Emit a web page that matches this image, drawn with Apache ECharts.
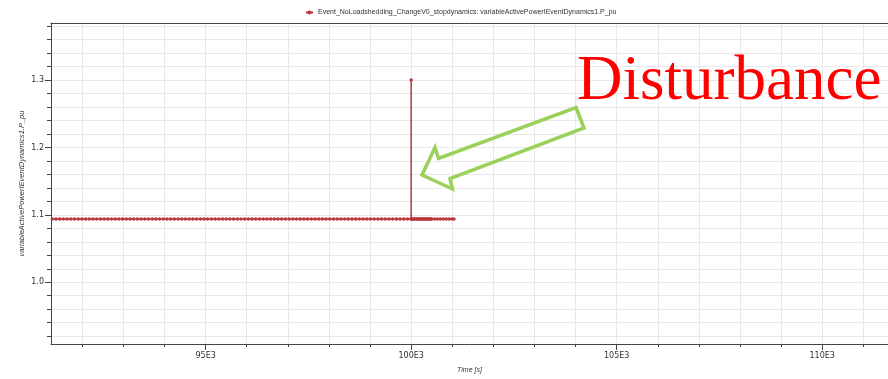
<!DOCTYPE html>
<html>
<head>
<meta charset="utf-8">
<script src="https://cdn.jsdelivr.net/npm/echarts@6/dist/echarts.min.js"></script>
<style>
  html, body { margin: 0; padding: 0; background: #ffffff; }
  #chart { width: 888px; height: 379px; }
</style>
</head>
<body>
<div id="chart"></div>
<script>
// Simulation output: time [s] and active power [pu]
var seriesName = 'Event_NoLoadshedding_ChangeV0_stopdynamics: variableActivePowerIEventDynamics1.P_pu';

var time = [
  91270, 91360, 91450, 91540, 91630, 91720, 91810, 91900, 91990, 92080,
  92170, 92260, 92350, 92440, 92530, 92620, 92710, 92800, 92890, 92980,
  93070, 93160, 93250, 93340, 93430, 93520, 93610, 93700, 93790, 93880,
  93970, 94060, 94150, 94240, 94330, 94420, 94510, 94600, 94690, 94780,
  94870, 94960, 95050, 95140, 95230, 95320, 95410, 95500, 95590, 95680,
  95770, 95860, 95950, 96040, 96130, 96220, 96310, 96400, 96490, 96580,
  96670, 96760, 96850, 96940, 97030, 97120, 97210, 97300, 97390, 97480,
  97570, 97660, 97750, 97840, 97930, 98020, 98110, 98200, 98290, 98380,
  98470, 98560, 98650, 98740, 98830, 98920, 99010, 99100, 99190, 99280,
  99370, 99460, 99550, 99640, 99730, 99820, 99910, 100000,
  100000,
  100000, 100025, 100050, 100075, 100100, 100125, 100150, 100175, 100200, 100225,
  100250, 100275, 100300, 100325, 100350, 100375, 100400, 100425, 100450, 100475,
  100500, 100570, 100640, 100710, 100780, 100850, 100920, 100990, 101040
];

var power = [
  1.094, 1.094, 1.094, 1.094, 1.094, 1.094, 1.094, 1.094, 1.094, 1.094,
  1.094, 1.094, 1.094, 1.094, 1.094, 1.094, 1.094, 1.094, 1.094, 1.094,
  1.094, 1.094, 1.094, 1.094, 1.094, 1.094, 1.094, 1.094, 1.094, 1.094,
  1.094, 1.094, 1.094, 1.094, 1.094, 1.094, 1.094, 1.094, 1.094, 1.094,
  1.094, 1.094, 1.094, 1.094, 1.094, 1.094, 1.094, 1.094, 1.094, 1.094,
  1.094, 1.094, 1.094, 1.094, 1.094, 1.094, 1.094, 1.094, 1.094, 1.094,
  1.094, 1.094, 1.094, 1.094, 1.094, 1.094, 1.094, 1.094, 1.094, 1.094,
  1.094, 1.094, 1.094, 1.094, 1.094, 1.094, 1.094, 1.094, 1.094, 1.094,
  1.094, 1.094, 1.094, 1.094, 1.094, 1.094, 1.094, 1.094, 1.094, 1.094,
  1.094, 1.094, 1.094, 1.094, 1.094, 1.094, 1.094, 1.094,
  1.3,
  1.094, 1.094, 1.094, 1.094, 1.094, 1.094, 1.094, 1.094, 1.094, 1.094,
  1.094, 1.094, 1.094, 1.094, 1.094, 1.094, 1.094, 1.094, 1.094, 1.094,
  1.094, 1.094, 1.094, 1.094, 1.094, 1.094, 1.094, 1.094, 1.094
];

// Axis ranges and tick positions
var xRange = [91238, 111600];
var yRange = [0.9084, 1.3846];
var xMinorTicks = [92000, 93000, 94000, 95000, 96000, 97000, 98000, 99000, 100000,
  101000, 102000, 103000, 104000, 105000, 106000, 107000, 108000, 109000, 110000, 111000];
var xMajorTicks = [95000, 100000, 105000, 110000];
var yMinorTicks = [0.92, 0.94, 0.96, 0.98, 1.0, 1.02, 1.04, 1.06, 1.08, 1.1, 1.12, 1.14,
  1.16, 1.18, 1.2, 1.22, 1.24, 1.26, 1.28, 1.3, 1.32, 1.34, 1.36, 1.38];
var yMajorTicks = [1.0, 1.1, 1.2, 1.3];

var FONT = 'Liberation Sans';
var TICK_FONT = 'DejaVu Sans';
var AXIS_COLOR = '#444444';
var GRID_COLOR = '#e8e8e8';
var LINE_COLOR = '#bb363d';

var pairs = time.map(function (t, i) { return [t, power[i]]; });

var chart = echarts.init(document.getElementById('chart'), null, { renderer: 'canvas' });

chart.setOption({
  animation: false,
  backgroundColor: '#ffffff',
  legend: {
    top: 4,
    left: 300,
    itemWidth: 7,
    itemHeight: 5,
    itemGap: 3,
    textStyle: { fontFamily: FONT, fontSize: 7, color: '#333333' },
    data: [seriesName]
  },
  grid: {
    left: 51, top: 23, right: 0, bottom: 34,
    show: false
  },
  xAxis: [
    {
      type: 'value', min: xRange[0], max: xRange[1], position: 'bottom',
      name: 'Time [s]', nameLocation: 'middle', nameGap: 23,
      nameTextStyle: { fontFamily: FONT, fontSize: 7, fontStyle: 'italic', color: '#333333' },
      axisLine: { show: true, lineStyle: { color: AXIS_COLOR } },
      axisTick: { show: true, length: 3, customValues: xMinorTicks, lineStyle: { color: AXIS_COLOR } },
      axisLabel: { show: false },
      splitLine: { show: true, lineStyle: { color: GRID_COLOR, width: 1 } }
    },
    {
      type: 'value', min: xRange[0], max: xRange[1], position: 'bottom',
      axisLine: { show: false },
      axisTick: { show: true, length: 6, customValues: xMajorTicks, lineStyle: { color: AXIS_COLOR } },
      axisLabel: {
        show: true, customValues: xMajorTicks, margin: 8,
        fontFamily: TICK_FONT, fontSize: 8, color: '#333333',
        formatter: function (v) { return (v / 1000) + 'E3'; }
      },
      splitLine: { show: false }
    },
    {
      // top frame line of the plot area
      type: 'value', min: xRange[0], max: xRange[1], position: 'top',
      axisLine: { show: true, lineStyle: { color: AXIS_COLOR } },
      axisTick: { show: false },
      axisLabel: { show: false },
      splitLine: { show: false }
    }
  ],
  yAxis: [
    {
      type: 'value', min: yRange[0], max: yRange[1], position: 'left',
      name: 'variableActivePowerIEventDynamics1.P_pu', nameLocation: 'middle', nameGap: 25,
      nameTextStyle: { fontFamily: FONT, fontSize: 7.5, fontStyle: 'italic', color: '#333333' },
      axisLine: { show: true, lineStyle: { color: AXIS_COLOR } },
      axisTick: { show: true, length: 4, customValues: yMinorTicks, lineStyle: { color: AXIS_COLOR } },
      axisLabel: { show: false },
      splitLine: { show: true, lineStyle: { color: GRID_COLOR, width: 1 } }
    },
    {
      type: 'value', min: yRange[0], max: yRange[1], position: 'left',
      axisLine: { show: false },
      axisTick: { show: true, length: 6, customValues: yMajorTicks, lineStyle: { color: AXIS_COLOR } },
      axisLabel: {
        show: true, customValues: yMajorTicks, margin: 7,
        fontFamily: TICK_FONT, fontSize: 8, color: '#333333',
        formatter: function (v) { return v.toFixed(1); }
      },
      splitLine: { show: false }
    }
  ],
  series: [
    {
      name: seriesName,
      type: 'line',
      xAxisIndex: 0,
      yAxisIndex: 0,
      data: pairs,
      showSymbol: true,
      symbol: 'circle',
      symbolSize: 3.5,
      itemStyle: { color: LINE_COLOR },
      lineStyle: { color: LINE_COLOR, width: 1.5 },
      clip: true
    }
  ],
  graphic: [
    {
      type: 'text',
      z: 100,
      style: {
        text: 'Disturbance',
        x: 577,
        y: 82,
        font: '63px "Liberation Serif"',
        fill: '#ff0000',
        align: 'left',
        verticalAlign: 'middle'
      }
    },
    {
      type: 'polygon',
      z: 100,
      shape: {
        points: [[576, 107.5], [584, 128], [450, 178.5], [452.5, 189], [422, 175], [435, 147.5], [438.5, 158.5]]
      },
      style: { fill: 'none', stroke: '#9bd05a', lineWidth: 3.5, lineJoin: 'miter' }
    }
  ]
});
</script>
</body>
</html>
